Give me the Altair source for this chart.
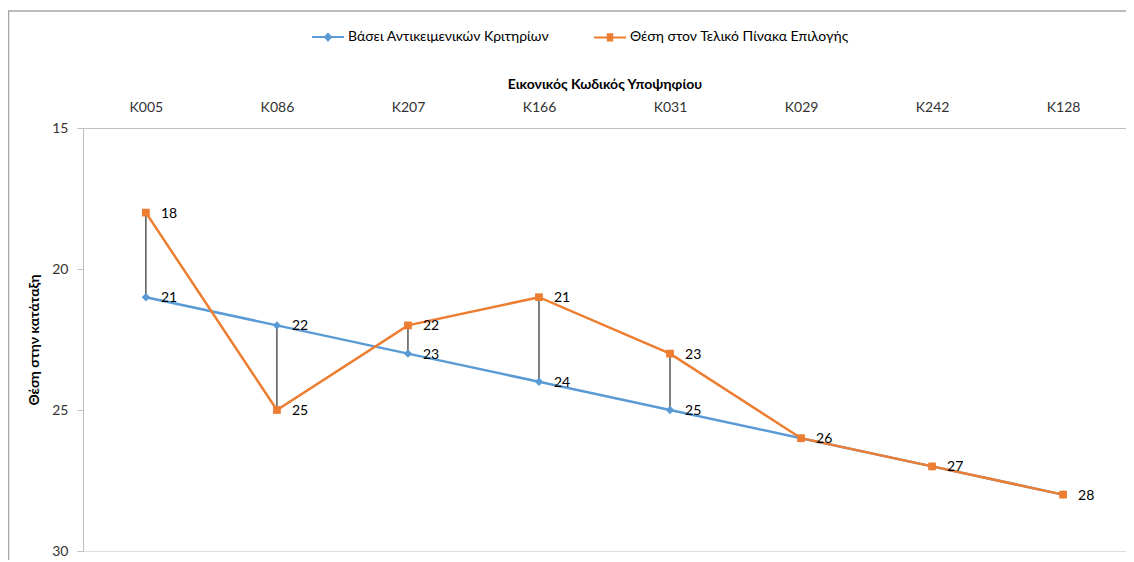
import altair as alt
import pandas as pd

codes = ["K005", "K086", "K207", "K166", "K031", "K029", "K242", "K128"]
objective = [21, 22, 23, 24, 25, 26, 27, 28]
final = [18, 25, 22, 21, 23, 26, 27, 28]
series_names = ["Βάσει Αντικειμενικών Κριτηρίων", "Θέση στον Τελικό Πίνακα Επιλογής"]
y_ticks = [15, 20, 25, 30]

BLUE = "#5B9BD5"
ORANGE = "#ED7D31"
FONT = "Lato"

df = pd.DataFrame({"code": codes, "objective": objective, "final": final})

W, H = 1043, 423

xenc = alt.X("code:N", sort=codes,
             scale=alt.Scale(type="point", padding=0.48),
             axis=alt.Axis(orient="top", title="Εικονικός Κωδικός Υποψηφίου", labelAngle=0,
                           ticks=False, domainColor="#BFBFBF", labelPadding=14,
                           titlePadding=9, labelFontSize=14, titleFontSize=14,
                           titleFontWeight="bold", labelColor="#333333", titleColor="#000000",
                           labelFont=FONT, titleFont=FONT))
yscale = alt.Scale(domain=[15, 30], reverse=True, nice=False, zero=False)
yaxis = alt.Axis(values=y_ticks, title="Θέση στην κατάταξη", grid=False, domainColor="#BFBFBF",
                 tickColor="#BFBFBF", tickSize=6, labelPadding=9, labelFontSize=14,
                 titleFontSize=14, titleFontWeight="bold", titlePadding=10,
                 labelColor="#333333", titleColor="#000000", labelFont=FONT, titleFont=FONT)

base = alt.Chart(df)

drops = base.mark_rule(color="#000000", strokeWidth=1).encode(
    x=xenc, y=alt.Y("objective:Q", scale=yscale, axis=yaxis), y2="final:Q")

blue_line = base.mark_line(color=BLUE, strokeWidth=2.5).encode(
    x=alt.X("code:N", sort=codes), y="objective:Q")
blue_pts = base.mark_point(shape="diamond", filled=True, color=BLUE, size=70, opacity=1).encode(
    x=alt.X("code:N", sort=codes), y="objective:Q")
orange_line = base.mark_line(color=ORANGE, strokeWidth=2.5).encode(
    x=alt.X("code:N", sort=codes), y="final:Q")
orange_pts = base.mark_point(shape="square", filled=True, color=ORANGE, size=60, opacity=1).encode(
    x=alt.X("code:N", sort=codes), y="final:Q")

blue_lbl = base.transform_filter("datum.objective != datum.final").mark_text(
    align="left", baseline="middle", dx=15, dy=1, fontSize=14,
    font=FONT, color="#000000").encode(
    x=alt.X("code:N", sort=codes), y="objective:Q", text="objective:Q")
orange_lbl = base.mark_text(align="left", baseline="middle", dx=15, dy=1, fontSize=14,
                            font=FONT, color="#000000").encode(
    x=alt.X("code:N", sort=codes), y="final:Q", text="final:Q")

# legend-only layer (no data drawn)
def hatch(xw, ys):
    return "".join(f"M{-xw(y):.3f},{y:.3f}H{xw(y):.3f}" for y in ys)

ys = [i * 0.05 for i in range(-4, 5)]
sq_path = "M-1,0H1" + hatch(lambda y: 0.2, ys)
dia_path = "M-1,0H1" + hatch(lambda y: max(0.02, 0.24 - abs(y)), [i * 0.04 for i in range(-6, 7)])

leg = alt.Legend(title=None, orient="none", direction="horizontal",
                 legendX=228, legendY=-108, symbolSize=1024,
                 symbolStrokeWidth=2, labelFontSize=14, labelFont=FONT,
                 labelColor="#000000", columnPadding=40,
                 labelOffset=3, labelLimit=400)

legend_df = pd.DataFrame({"series": series_names})
legend_layer = alt.Chart(legend_df).transform_filter("false").mark_point(
    filled=False, size=1024, strokeWidth=2, opacity=1).encode(
    color=alt.Color("series:N",
                    scale=alt.Scale(domain=series_names, range=[BLUE, ORANGE]),
                    legend=leg),
    shape=alt.Shape("series:N",
                    scale=alt.Scale(domain=series_names, range=[dia_path, sq_path]),
                    legend=leg),
)

# outer frame lines (decoration)
frame = pd.DataFrame({"k": [0]})
frame_top = alt.Chart(frame).mark_rule(color="#A6A6A6", strokeWidth=1.5).encode(
    x=alt.value(-75), x2=alt.value(W), y=alt.value(-117))
frame_left = alt.Chart(frame).mark_rule(color="#A6A6A6", strokeWidth=1.5).encode(
    x=alt.value(-74.5), y=alt.value(-117), y2=alt.value(H + 10))

chart = alt.layer(
    frame_top, frame_left, drops, blue_line, orange_line, blue_pts, orange_pts,
    blue_lbl, orange_lbl, legend_layer
).properties(
    width=W, height=H,
    autosize=alt.AutoSizeParams(type="none"),
    padding={"left": 75, "top": 120, "right": 0, "bottom": 9},
).configure_view(stroke=None).configure(background="#FFFFFF")

chart.save("out.html", embed_options={"renderer": "svg", "actions": False})
